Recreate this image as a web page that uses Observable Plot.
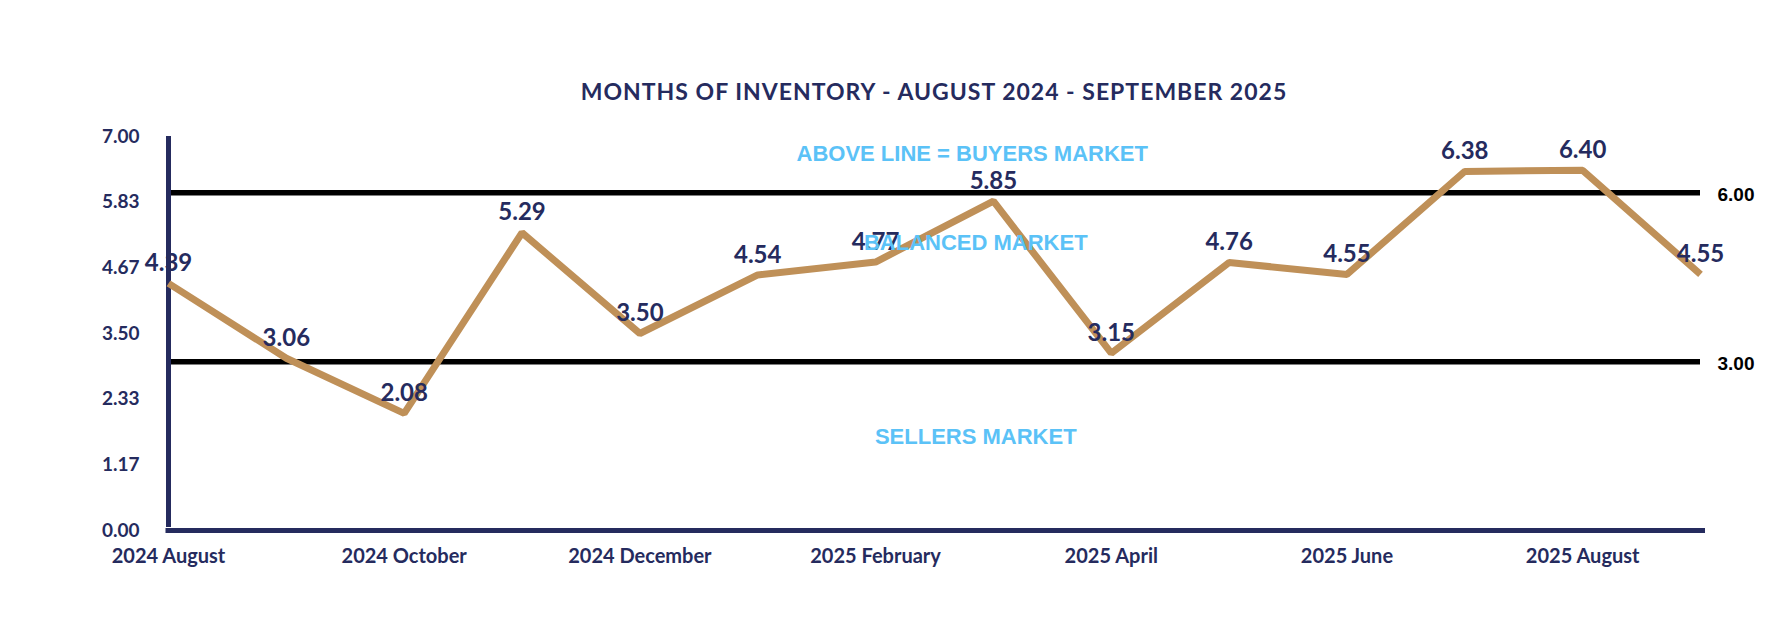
<!DOCTYPE html>
<html>
<head>
<meta charset="utf-8">
<script src="https://cdn.jsdelivr.net/npm/d3@7"></script>
<script src="https://cdn.jsdelivr.net/npm/@observablehq/plot@0.6"></script>
<style>
  body { margin: 0; background: #fff; }
  #wrap { position: relative; width: 1776px; height: 644px; overflow: hidden; }
  #title { position: absolute; top: 78px; left: 168px; width: 1532px; text-align: center;
           font-family: Lato, sans-serif; font-weight: 700; font-size: 23px; letter-spacing: 1px; line-height: 26px; color: #252B5E; }
  #chart { position: absolute; top: 110px; left: 0; }
  #chart svg text { font-weight: 700; }
</style>
</head>
<body>
<div id="wrap">
  <div id="title">MONTHS OF INVENTORY - AUGUST 2024 - SEPTEMBER 2025</div>
  <div id="chart"></div>
</div>
<script>
const months = ["2024 August","2024 September","2024 October","2024 November","2024 December",
  "2025 January","2025 February","2025 March","2025 April","2025 May","2025 June","2025 July",
  "2025 August","2025 September"];
const values = [4.39, 3.06, 2.08, 5.29, 3.50, 4.54, 4.77, 5.85, 3.15, 4.76, 4.55, 6.38, 6.40, 4.55];
const yTicks = [0, 1.17, 2.33, 3.50, 4.67, 5.83, 7.00];
const xTickMonths = ["2024 August","2024 October","2024 December","2025 February","2025 April","2025 June","2025 August"];
const thresholds = [6, 3];
const zoneLabels = ["ABOVE LINE = BUYERS MARKET", "BALANCED MARKET", "SELLERS MARKET"];
const zoneX = [6.82, 6.85, 6.85];
const zoneY = [6.69, 5.10, 1.66];

const navy = "#252B5E";
const tan = "#BF9058";
const blue = "#5BC2F7";

const series = months.map((m, i) => ({i, month: m, value: values[i]}));
const zones = zoneLabels.map((t, k) => ({text: t, x: zoneX[k], y: zoneY[k]}));
const xTicks = xTickMonths.map(m => months.indexOf(m));
const lastIdx = months.length - 1;

const chart = Plot.plot({
  width: 1776,
  height: 534,
  marginTop: 26,
  marginBottom: 114,
  marginLeft: 168,
  marginRight: 76,
  style: {fontFamily: "Lato, sans-serif", color: navy, background: "white"},
  x: {type: "linear", domain: [0, lastIdx]},
  y: {domain: [0, 7]},
  marks: [
    Plot.axisY(yTicks, {tickSize: 0, tickPadding: 29, tickFormat: d3.format(".2f"), fontSize: 19, fontWeight: "bold", label: null}),
    Plot.axisX(xTicks, {tickSize: 0, tickPadding: 18, tickFormat: i => months[i], fontSize: 20, fontWeight: "bold", label: null}),
    Plot.ruleY(thresholds, {stroke: "black", strokeWidth: 5.5}),
    Plot.text(thresholds, {x: () => lastIdx, y: d => d, text: d => d3.format(".2f")(d), textAnchor: "start", dx: 17, dy: 2,
      fill: "black", fontFamily: "Liberation Sans", fontSize: 19, fontWeight: "bold"}),
    Plot.ruleX([0], {y1: 0, y2: 7, stroke: navy, strokeWidth: 5, insetTop: -3}),
    Plot.ruleY([0], {stroke: navy, strokeWidth: 5, insetLeft: -2.5, insetRight: -5}),
    Plot.line(series, {x: "i", y: "value", stroke: tan, strokeWidth: 7, strokeLinejoin: "miter", strokeLinecap: "butt"}),
    Plot.text(series, {x: "i", y: "value", text: d => d.value.toFixed(2), dy: -20, fontSize: 24, fill: navy, fontWeight: "bold"}),
    Plot.text(zones, {x: "x", y: "y", text: "text", fill: blue, fontFamily: "Liberation Sans", fontSize: 22, fontWeight: "bold"})
  ]
});
document.getElementById("chart").appendChild(chart);
</script>
</body>
</html>
